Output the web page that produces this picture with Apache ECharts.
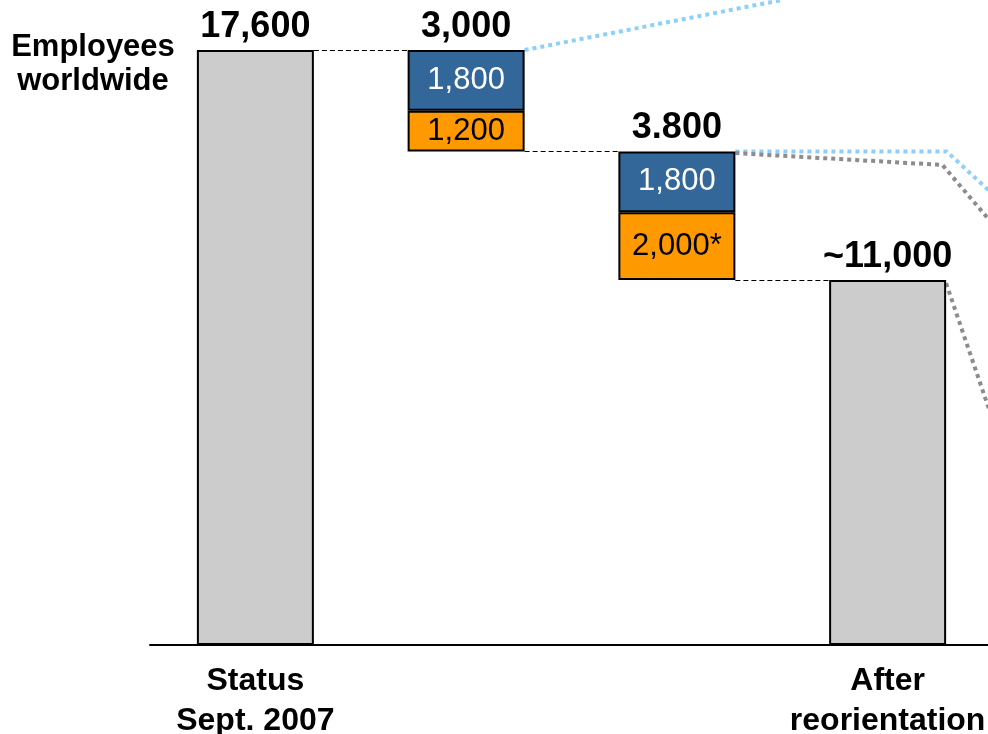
<!DOCTYPE html>
<html>
<head>
<meta charset="utf-8">
<script src="https://cdn.jsdelivr.net/npm/echarts@6/dist/echarts.min.js"></script>
<style>
  html, body { margin: 0; padding: 0; background: #ffffff; }
  #chart { width: 988px; height: 734px; }
</style>
</head>
<body>
<div id="chart"></div>
<script>
// Workforce bridge: start headcount, two reduction steps, resulting headcount
const categories = ['Status\nSept. 2007', '', '', 'After\nreorientation'];
const startTotal = 17600;
const blueCuts = [null, 1800, 1800, null];     // upper part of each reduction step
const orangeCuts = [null, 1200, 2000, null];   // lower part of each reduction step
const stepLabels = ['17,600', '3,000', '3.800', '~11,000'];
const blueLabels = ['', '1,800', '1,800', ''];
const orangeLabels = ['', '1,200', '2,000*', ''];

// Leader lines towards the detail callout, as [x on 0..4 slot scale, value]
const leaderBlueUpper = [[3.0, 19080]];
const leaderBlueLower = [[3.78, 14600], [4.04, 13100]];
const leaderGreyUpper = [[3.76, 14200], [4.04, 12150]];
const leaderGreyLower = [[4.04, 5900]];

// Running levels of the waterfall
const levels = [];
let run = startTotal;
categories.forEach((c, i) => {
  const cut = (blueCuts[i] || 0) + (orangeCuts[i] || 0);
  run -= cut;
  levels.push(run);
});
const endTotal = levels[levels.length - 1];
const totals = [startTotal, null, null, endTotal];
const bases = categories.map((c, i) => (totals[i] != null ? 0 : levels[i]));
const tops = categories.map((c, i) => (totals[i] != null ? totals[i] : levels[i] + blueCuts[i] + orangeCuts[i]));

const BAR_W = 117;
const SLOT = 843 / categories.length;
const HALF = BAR_W / 2 / SLOT;
const FONT = 'Liberation Sans, Arial, Helvetica, sans-serif';

const blue = '#336699', orange = '#ff9900', grey = '#cccccc';
const leaderBlue = '#8dd0fa', leaderGrey = '#8c8c8c';

function leader(start, pts, color) {
  return {
    type: 'line', xAxisIndex: 1, yAxisIndex: 0, clip: false, silent: true,
    symbol: 'none', z: 1,
    lineStyle: { color: color, width: 4, type: [4, 4], cap: 'butt', join: 'miter' },
    data: [start].concat(pts)
  };
}

const chart = echarts.init(document.getElementById('chart'), null, { renderer: 'canvas' });
chart.setOption({
  animation: false,
  backgroundColor: '#ffffff',
  grid: { left: 150, top: 50, width: 843, height: 595, containLabel: false, outerBoundsMode: 'none' },
  graphic: [{
    type: 'text', x: 93, y: 30,
    style: {
      text: 'Employees\nworldwide', align: 'center', verticalAlign: 'top',
      font: 'bold 31px ' + FONT, lineHeight: 34, fill: '#000'
    }
  }],
  xAxis: [{
    type: 'category', data: categories,
    axisLine: { lineStyle: { color: '#000', width: 2 } },
    axisTick: { show: false },
    axisLabel: {
      color: '#000', fontFamily: FONT, fontWeight: 'bold', fontSize: 32,
      lineHeight: 40, margin: 16, interval: 0
    }
  }, {
    type: 'value', min: 0, max: categories.length, show: false
  }],
  yAxis: { type: 'value', min: 0, max: startTotal, show: false },
  series: [
    leader([1.5 + HALF, tops[1]], leaderBlueUpper, leaderBlue),
    leader([2.5 + HALF, tops[2]], leaderBlueLower, leaderBlue),
    leader([2.5 + HALF, tops[2] - 50], leaderGreyUpper, leaderGrey),
    leader([3.5 + HALF, tops[3] - 100], leaderGreyLower, leaderGrey),
    {
      type: 'bar', stack: 'w', barWidth: BAR_W, silent: true,
      itemStyle: { color: 'transparent' }, data: bases
    },
    {
      type: 'bar', stack: 'w', barWidth: BAR_W, z: 3,
      itemStyle: { color: orange, borderColor: '#000', borderWidth: 2 },
      label: {
        show: true, position: 'inside', color: '#000', fontFamily: FONT, fontSize: 31,
        formatter: p => orangeLabels[p.dataIndex]
      },
      data: orangeCuts
    },
    {
      type: 'bar', stack: 'w', barWidth: BAR_W, z: 3,
      itemStyle: { color: blue, borderColor: '#000', borderWidth: 2 },
      label: {
        show: true, position: 'inside', color: '#fff', fontFamily: FONT, fontSize: 31,
        formatter: p => blueLabels[p.dataIndex]
      },
      data: blueCuts
    },
    {
      type: 'bar', stack: 'w', barWidth: BAR_W, z: 3,
      itemStyle: { color: grey, borderColor: '#000', borderWidth: 2 },
      data: totals
    },
    {
      // dashed connectors between neighbouring bars, snapped to the pixel grid
      type: 'custom', xAxisIndex: 0, yAxisIndex: 0, silent: true, z: 2,
      data: levels.slice(0, -1).map((v, i) => [i, v]),
      renderItem: (params, api) => {
        const i = api.value(0), v = api.value(1);
        const a = api.coord([i, v]), b = api.coord([i + 1, v]);
        const y = Math.round(a[1]) + 0.5;
        return {
          type: 'line',
          shape: { x1: a[0] + BAR_W / 2, y1: y, x2: b[0] - BAR_W / 2, y2: y },
          style: { stroke: '#000', lineWidth: 1, lineDash: [5, 3] }
        };
      }
    },
    {
      // step values above each bar
      type: 'scatter', symbolSize: 0, silent: true, z: 4,
      itemStyle: { opacity: 1 },
      data: tops.map((v, i) => [i, v]),
      label: {
        show: true, position: 'top', distance: 5, color: '#000', opacity: 1,
        fontFamily: FONT, fontWeight: 'bold', fontSize: 36,
        formatter: p => stepLabels[p.dataIndex]
      }
    }
  ]
});
</script>
</body>
</html>
